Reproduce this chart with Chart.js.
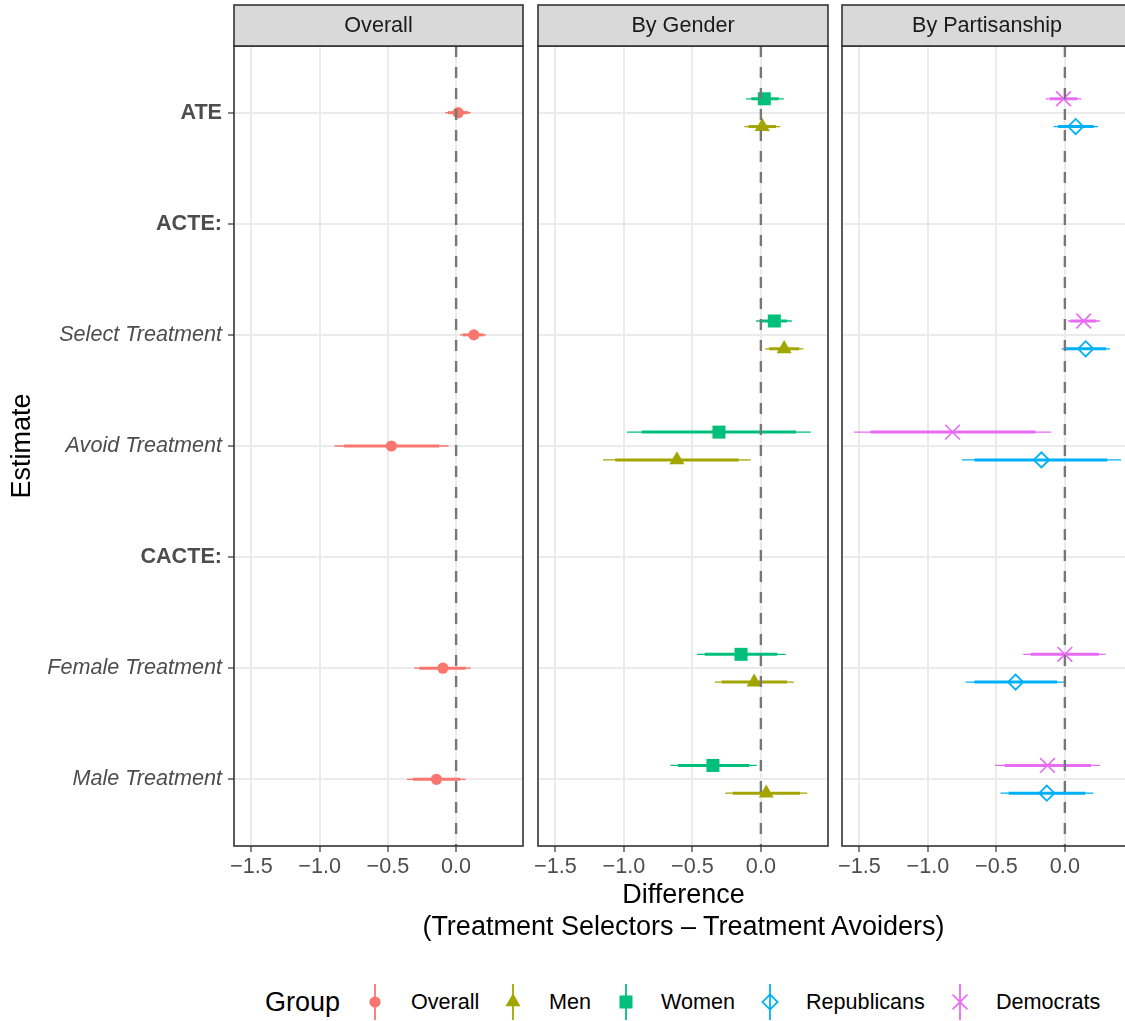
<!DOCTYPE html>
<html>
<head>
<meta charset="utf-8">
<script src="https://cdn.jsdelivr.net/npm/chart.js@4/dist/chart.umd.min.js"></script>
<style>
  html, body { margin: 0; padding: 0; background: #ffffff; overflow: hidden; }
  #wrap { position: relative; width: 1125px; height: 1021px; overflow: hidden; background: #fff;
          font-family: "Liberation Sans", Arial, Helvetica, sans-serif; }
  canvas.panel { position: absolute; top: 0; }
  #xtitle { position: absolute; left: 234px; width: 899px; top: 878px; text-align: center;
            font-size: 27px; line-height: 32px; color: #000; }
  .lg { position: absolute; font-size: 21.6px; color: #000; line-height: 26px; top: 989px; white-space: nowrap; }
  #lgTitle { position: absolute; left: 265px; top: 986px; font-size: 27px; line-height: 32px; color: #000; }
  svg.key { position: absolute; top: 984px; overflow: visible; }
</style>
</head>
<body>
<div id="wrap">
  <canvas id="p1" class="panel" width="530" height="880" style="left:0px"></canvas>
  <canvas id="p2" class="panel" width="300" height="880" style="left:530px"></canvas>
  <canvas id="p3" class="panel" width="300" height="880" style="left:834px"></canvas>
  <div id="xtitle">Difference<br>(Treatment Selectors – Treatment Avoiders)</div>
  <div id="lgTitle">Group</div>
  <div id="legend"></div>
</div>
<script>
// ---------------- DATA ----------------
const categories = ['ATE', 'ACTE:', 'Select Treatment', 'Avoid Treatment', 'CACTE:', 'Female Treatment', 'Male Treatment'];
const facetTitles = ['Overall', 'By Gender', 'By Partisanship'];
const xTicks = [-1.5, -1.0, -0.5, 0.0];

const overallEst  = [0.015, null, 0.13, -0.474, null, -0.097, -0.144];
const overallLo95 = [-0.08, null, 0.03, -0.89, null, -0.307, -0.36];
const overallHi95 = [0.108, null, 0.22, -0.056, null, 0.108, 0.07];
const overallLo90 = [-0.06, null, 0.05, -0.82, null, -0.27, -0.317];
const overallHi90 = [0.09, null, 0.2, -0.124, null, 0.07, 0.03];

const menEst  = [0.01, null, 0.17, -0.613, null, -0.049, 0.039];
const menLo95 = [-0.12, null, 0.032, -1.152, null, -0.336, -0.26];
const menHi95 = [0.14, null, 0.31, -0.074, null, 0.24, 0.338];
const menLo90 = [-0.09, null, 0.06, -1.064, null, -0.287, -0.206];
const menHi90 = [0.11, null, 0.28, -0.162, null, 0.19, 0.285];

const womenEst  = [0.025, null, 0.098, -0.306, null, -0.145, -0.35];
const womenLo95 = [-0.108, null, -0.035, -0.978, null, -0.466, -0.66];
const womenHi95 = [0.167, null, 0.226, 0.365, null, 0.18, -0.03];
const womenLo90 = [-0.07, null, 0.0, -0.87, null, -0.41, -0.605];
const womenHi90 = [0.13, null, 0.19, 0.257, null, 0.12, -0.086];

const repEst  = [0.079, null, 0.152, -0.171, null, -0.36, -0.132];
const repLo95 = [-0.083, null, -0.024, -0.752, null, -0.725, -0.47];
const repHi95 = [0.243, null, 0.33, 0.41, null, 0.005, 0.209];
const repLo90 = [-0.05, null, 0.005, -0.66, null, -0.66, -0.41];
const repHi90 = [0.21, null, 0.3, 0.31, null, -0.056, 0.15];

const demEst  = [-0.01, null, 0.137, -0.82, null, 0.0, -0.127];
const demLo95 = [-0.14, null, 0.022, -1.539, null, -0.304, -0.51];
const demHi95 = [0.12, null, 0.257, -0.098, null, 0.297, 0.257];
const demLo90 = [-0.11, null, 0.04, -1.42, null, -0.25, -0.44];
const demHi90 = [0.09, null, 0.23, -0.215, null, 0.248, 0.19];

const groupNames = ['Overall', 'Men', 'Women', 'Republicans', 'Democrats'];

// ---------------- STYLE ----------------
const FONT = '"Liberation Sans", Arial, Helvetica, sans-serif';
Chart.defaults.font.family = FONT;
const COLORS = { Overall: '#F8766D', Men: '#A3A500', Women: '#00BF7D', Republicans: '#00B0F6', Democrats: '#E76BF3' };
const X_MIN = -1.627, X_MAX = 0.49;

function series(name, est, lo95, hi95, lo90, hi90, dodge, style) {
  return Object.assign({
    label: name,
    color: COLORS[name],
    est, lo95, hi95, lo90, hi90, dodge,
    data: est.map((e, i) => e == null ? null : { x: e, y: i + dodge }).filter(p => p),
    showLine: false
  }, style);
}

const styleOf = {
  Overall: { pointStyle: 'circle', pointRadius: 5.6, backgroundColor: COLORS.Overall, borderColor: COLORS.Overall, pointBorderWidth: 0 },
  Men: { pointStyle: 'triangle', pointRadius: 8.7, backgroundColor: COLORS.Men, borderColor: COLORS.Men, pointBorderWidth: 0 },
  Women: { pointStyle: 'rect', pointRadius: 9.2, backgroundColor: COLORS.Women, borderColor: COLORS.Women, pointBorderWidth: 0 },
  Republicans: { pointStyle: 'rectRot', pointRadius: 7.6, backgroundColor: 'rgba(0,0,0,0)', borderColor: COLORS.Republicans, pointBorderWidth: 1.8 },
  Democrats: { pointStyle: 'crossRot', pointRadius: 10.4, backgroundColor: COLORS.Democrats, borderColor: COLORS.Democrats, pointBorderWidth: 1.6 }
};

function fmt(v) {
  const s = Math.abs(v).toFixed(1);
  return v < -1e-9 ? '\u2212' + s : s;
}

const errorBars = {
  id: 'errorBars',
  beforeDatasetsDraw(chart) {
    const { ctx, chartArea: a, scales: { x, y } } = chart;
    ctx.save();
    ctx.beginPath();
    ctx.rect(a.left, a.top, a.right - a.left, a.bottom - a.top);
    ctx.clip();
    ctx.lineCap = 'butt';
    chart.data.datasets.forEach(ds => {
      ctx.strokeStyle = ds.color;
      ds.est.forEach((e, i) => {
        if (e == null) return;
        const py = y.getPixelForValue(i + ds.dodge);
        ctx.lineWidth = 1.3;
        ctx.beginPath();
        ctx.moveTo(x.getPixelForValue(ds.lo95[i]), py);
        ctx.lineTo(x.getPixelForValue(ds.hi95[i]), py);
        ctx.stroke();
        ctx.lineWidth = 3;
        ctx.beginPath();
        ctx.moveTo(x.getPixelForValue(ds.lo90[i]), py);
        ctx.lineTo(x.getPixelForValue(ds.hi90[i]), py);
        ctx.stroke();
      });
    });
    ctx.restore();
  }
};

function facetPlugin(title) {
  return {
    id: 'facet',
    afterDatasetsDraw(chart) {
      const { ctx, chartArea: a, scales: { x } } = chart;
      const px = x.getPixelForValue(0);
      ctx.save();
      ctx.strokeStyle = '#777777';
      ctx.lineWidth = 2.4;
      ctx.setLineDash([11, 10]);
      ctx.beginPath();
      ctx.moveTo(px, a.top);
      ctx.lineTo(px, a.bottom);
      ctx.stroke();
      ctx.restore();
    },
    afterDraw(chart) {
      const { ctx, chartArea: a } = chart;
      ctx.save();
      ctx.strokeStyle = '#333333';
      ctx.lineWidth = 1.6;
      ctx.strokeRect(a.left, a.top, a.right - a.left, a.bottom - a.top);
      const sTop = 5;
      ctx.fillStyle = '#D9D9D9';
      ctx.fillRect(a.left, sTop, a.right - a.left, a.top - sTop);
      ctx.strokeRect(a.left, sTop, a.right - a.left, a.top - sTop);
      ctx.fillStyle = '#1A1A1A';
      ctx.font = '21.6px ' + FONT;
      ctx.textAlign = 'center';
      ctx.textBaseline = 'middle';
      ctx.fillText(title, (a.left + a.right) / 2, (sTop + a.top) / 2 + 1);
      ctx.restore();
    }
  };
}

function makePanel(id, title, datasets, showY, yWidth) {
  return new Chart(document.getElementById(id), {
    type: 'scatter',
    data: { datasets },
    plugins: [errorBars, facetPlugin(title)],
    options: {
      responsive: false,
      animation: false,
      events: [],
      layout: { autoPadding: false, padding: { top: 46, right: showY ? 7 : 2, left: 0, bottom: 0 } },
      plugins: { legend: { display: false }, tooltip: { enabled: false } },
      scales: {
        x: {
          type: 'linear', min: X_MIN, max: X_MAX,
          afterBuildTicks: s => { s.ticks = xTicks.map(v => ({ value: v })); },
          afterFit: s => { s.height = 34; },
          ticks: { callback: v => fmt(v), font: { size: 21.6 }, color: '#4D4D4D', padding: 2, maxRotation: 0, autoSkip: false },
          grid: { color: '#EBEBEB', lineWidth: 2, tickColor: '#333333', tickLength: 6, tickWidth: 1.2 },
          border: { display: false }
        },
        y: {
          type: 'linear', reverse: true, min: -0.6, max: categories.length - 0.4,
          afterBuildTicks: s => { s.ticks = categories.map((c, i) => ({ value: i })); },
          afterFit: s => { s.width = yWidth; },
          ticks: {
            display: showY, autoSkip: false, padding: 6, color: '#4D4D4D',
            callback: v => categories[Math.round(v)],
            font: ctx => {
              const lab = categories[ctx.index] || '';
              const header = lab === 'ATE' || lab.endsWith(':');
              return header ? { size: 21.6, weight: 'bold' } : { size: 21.6, style: 'italic' };
            }
          },
          grid: { color: '#EBEBEB', lineWidth: 2, drawTicks: showY, tickColor: '#333333', tickLength: 6, tickWidth: 1.2 },
          border: { display: false },
          title: { display: showY, text: 'Estimate', color: '#000000', font: { size: 27 }, padding: { top: 6, bottom: 0 } }
        }
      }
    }
  });
}

const dsOverall = [series('Overall', overallEst, overallLo95, overallHi95, overallLo90, overallHi90, 0, styleOf.Overall)];
const dsGender = [
  series('Men', menEst, menLo95, menHi95, menLo90, menHi90, 0.125, styleOf.Men),
  series('Women', womenEst, womenLo95, womenHi95, womenLo90, womenHi90, -0.125, styleOf.Women)
];
const dsParty = [
  series('Republicans', repEst, repLo95, repHi95, repLo90, repHi90, 0.125, styleOf.Republicans),
  series('Democrats', demEst, demLo95, demHi95, demLo90, demHi90, -0.125, styleOf.Democrats)
];

makePanel('p1', facetTitles[0], dsOverall, true, 234);
makePanel('p2', facetTitles[1], dsGender, false, 8);
makePanel('p3', facetTitles[2], dsParty, false, 8);

// ---------------- LEGEND ----------------
const legendKeyX = [375, 513, 626, 770, 960];
const legendTextX = [411, 549, 661, 806, 996];
function keySvg(name) {
  const c = COLORS[name];
  let shape = '';
  if (name === 'Overall') shape = `<circle cx="10" cy="18" r="5.6" fill="${c}"/>`;
  if (name === 'Men') shape = `<polygon points="10,9.3 17.5,22.35 2.5,22.35" fill="${c}"/>`;
  if (name === 'Women') shape = `<rect x="3.5" y="11.5" width="13" height="13" fill="${c}"/>`;
  if (name === 'Republicans') shape = `<polygon points="10,10.4 17.6,18 10,25.6 2.4,18" fill="none" stroke="${c}" stroke-width="1.8"/>`;
  if (name === 'Democrats') shape = `<path d="M2.6,10.6 L17.4,25.4 M17.4,10.6 L2.6,25.4" stroke="${c}" stroke-width="1.6"/>`;
  return `<line x1="10" y1="0" x2="10" y2="36" stroke="${c}" stroke-width="1.8"/>` + shape;
}
const lg = document.getElementById('legend');
groupNames.forEach((g, i) => {
  const svg = document.createElementNS('http://www.w3.org/2000/svg', 'svg');
  svg.setAttribute('class', 'key');
  svg.setAttribute('width', '20');
  svg.setAttribute('height', '36');
  svg.style.left = (legendKeyX[i] - 10) + 'px';
  svg.innerHTML = keySvg(g);
  lg.appendChild(svg);
  const t = document.createElement('div');
  t.className = 'lg';
  t.style.left = legendTextX[i] + 'px';
  t.textContent = g;
  lg.appendChild(t);
});
</script>
</body>
</html>
